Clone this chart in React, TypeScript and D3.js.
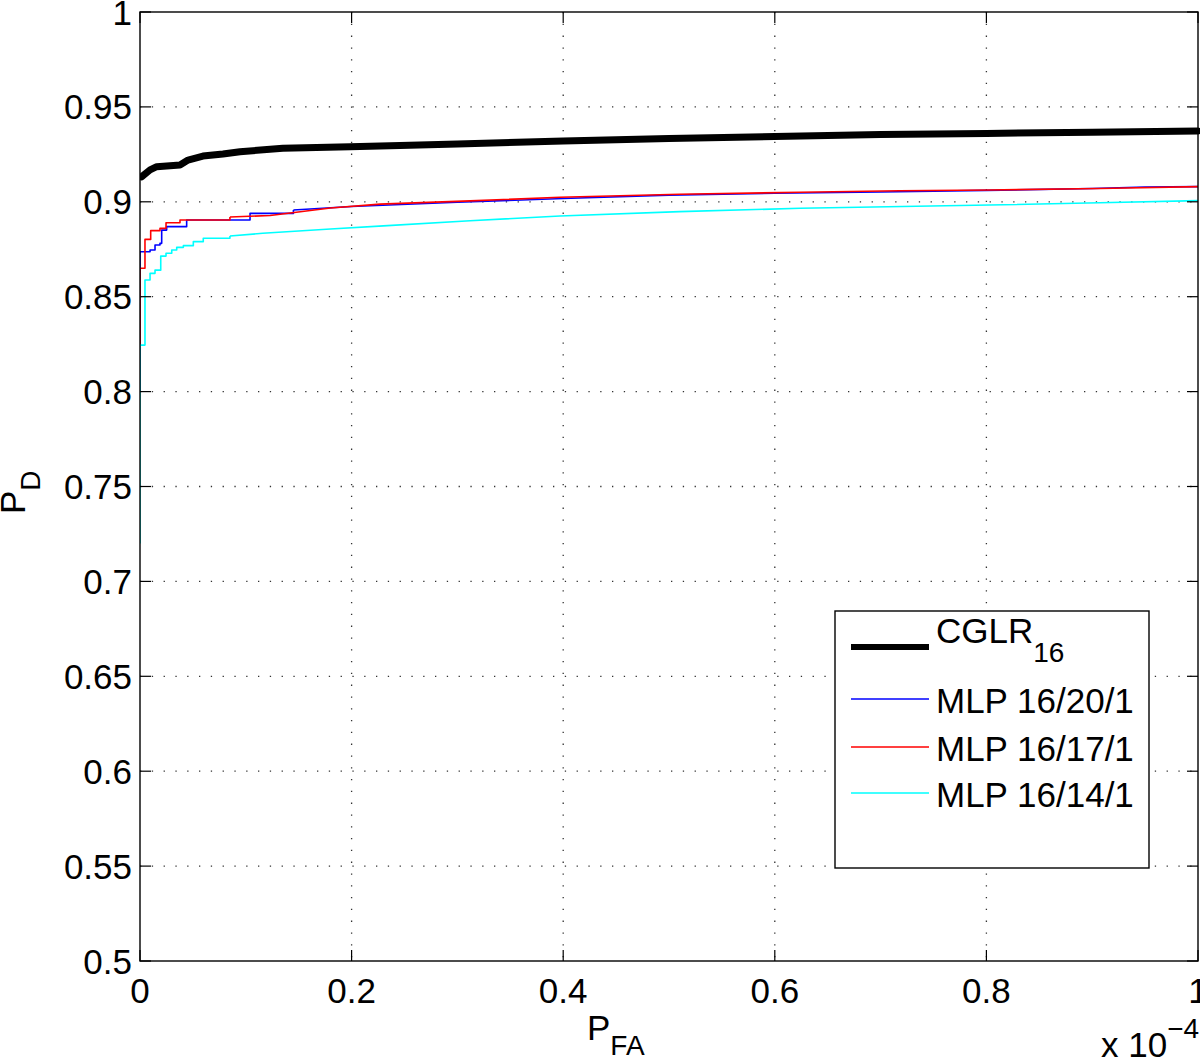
import React from "react";
import * as d3 from "d3";

// x values in units of 1e-4
const cglrX = [0.0016, 0.0095, 0.0158, 0.0378, 0.0454, 0.0595, 0.0784, 0.0945, 0.135, 0.1985, 0.2457, 0.3, 0.4, 0.5, 0.6, 0.7, 0.8, 0.9, 1.0];
const cglrY = [0.9132, 0.9168, 0.9185, 0.9194, 0.922, 0.9241, 0.9252, 0.9264, 0.9282, 0.929, 0.9296, 0.9305, 0.932, 0.9333, 0.9344, 0.9355, 0.936, 0.9367, 0.9373];

const mlp20X = [0, 0, 0.0095, 0.0142, 0.0189, 0.0205, 0.0252, 0.0441, 0.104, 0.145, 0.2, 0.3, 0.4, 0.5, 0.6, 0.7, 0.8, 0.9, 0.95, 1.0];
const mlp20Y = [0.80, 0.8737, 0.8746, 0.8772, 0.8781, 0.8851, 0.8869, 0.8904, 0.8939, 0.8957, 0.8975, 0.8998, 0.9017, 0.9035, 0.9045, 0.9052, 0.906, 0.907, 0.9078, 0.908];

const mlp17X = [0, 0, 0.0047, 0.0101, 0.0189, 0.0246, 0.0378, 0.085, 0.123, 0.18, 0.227, 0.312, 0.397, 0.51, 0.624, 0.718, 0.803, 0.907, 1.0];
const mlp17Y = [0.825, 0.865, 0.8802, 0.8848, 0.886, 0.889, 0.8904, 0.892, 0.8928, 0.8967, 0.8988, 0.9005, 0.9024, 0.904, 0.905, 0.9058, 0.9062, 0.907, 0.908];

const mlp14X = [0, 0, 0.0047, 0.0095, 0.0142, 0.0196, 0.0246, 0.03, 0.0347, 0.041, 0.0504, 0.0598, 0.085, 0.116, 0.18, 0.23, 0.312, 0.397, 0.51, 0.624, 0.803, 0.907, 1.0];
const mlp14Y = [0.72, 0.8245, 0.8588, 0.8623, 0.864, 0.8714, 0.8729, 0.8746, 0.876, 0.8769, 0.879, 0.8808, 0.882, 0.8834, 0.8857, 0.8873, 0.89, 0.8925, 0.8948, 0.8966, 0.8983, 0.8995, 0.9006];

// index where each series switches from visible stair steps to a smooth line
const stepEnds = [0, 9, 7, 12];

const xTicks = [0, 0.2, 0.4, 0.6, 0.8, 1];
const xTickLabels = ["0", "0.2", "0.4", "0.6", "0.8", "1"];
const yTicks = [0.5, 0.55, 0.6, 0.65, 0.7, 0.75, 0.8, 0.85, 0.9, 0.95, 1];
const yTickLabels = ["0.5", "0.55", "0.6", "0.65", "0.7", "0.75", "0.8", "0.85", "0.9", "0.95", "1"];

const seriesNames = ["CGLR", "MLP 16/20/1", "MLP 16/17/1", "MLP 16/14/1"];
const seriesColors = ["#000000", "#0000ff", "#ff0000", "#00ffff"];
const seriesWidths = [7, 1.6, 1.6, 1.6];

const FONT = "'Liberation Sans', Arial, Helvetica, sans-serif";

export default function App() {
  const W = 1200, H = 1060;
  const L = 140, R = 1198, T = 12, B = 961;
  const x = d3.scaleLinear().domain([0, 1]).range([L, R]);
  const y = d3.scaleLinear().domain([0.5, 1]).range([B, T]);
  const fs = 35;
  const sub = 28;

  const data = [
    { xs: cglrX, ys: cglrY },
    { xs: mlp20X, ys: mlp20Y },
    { xs: mlp17X, ys: mlp17Y },
    { xs: mlp14X, ys: mlp14Y },
  ];

  const stepGen = d3
    .line<[number, number]>()
    .x((d) => x(d[0]))
    .y((d) => y(d[1]))
    .curve(d3.curveStepAfter);
  const smoothGen = d3
    .line<[number, number]>()
    .x((d) => x(d[0]))
    .y((d) => y(d[1]))
    .curve(d3.curveLinear);

  const tickLen = 11;
  const gridStyle = { stroke: "#333", strokeWidth: 1.3, strokeDasharray: "1.3 10.5" };

  const legX = 835, legY = 611, legW = 314, legH = 257;
  const rowY = [647, 699, 747, 793];

  return (
    <svg width={W} height={H} style={{ position: "absolute", left: 0, top: 0, background: "#fff" }} fontFamily={FONT}>
      <rect x={0} y={0} width={W} height={H} fill="#fff" />
      {/* grid */}
      {xTicks.slice(1, -1).map((t) => (
        <line key={"gx" + t} x1={x(t)} x2={x(t)} y1={T} y2={B} {...gridStyle} />
      ))}
      {yTicks.slice(1, -1).map((t) => (
        <line key={"gy" + t} x1={L} x2={R} y1={y(t)} y2={y(t)} {...gridStyle} />
      ))}
      <defs>
        <clipPath id="plotclip">
          <rect x={L} y={T - 4} width={R - L + 2} height={B - T + 4} />
        </clipPath>
      </defs>
      {/* series */}
      <g clipPath="url(#plotclip)">
        {data.map((s, i) => {
          const pts = s.xs.map((v, k) => [v, s.ys[k]] as [number, number]);
          const se = stepEnds[i];
          const stepPts = pts.slice(0, se + 1);
          const smoothPts = pts.slice(se);
          const common = {
            fill: "none",
            stroke: seriesColors[i],
            strokeWidth: seriesWidths[i],
            strokeLinejoin: "round" as const,
            strokeLinecap: (i === 0 ? "round" : "butt") as "round" | "butt",
          };
          return (
            <g key={i}>
              {stepPts.length > 1 && <path d={stepGen(stepPts) || ""} {...common} />}
              <path d={smoothGen(smoothPts) || ""} {...common} />
            </g>
          );
        })}
      </g>
      {/* box */}
      <rect x={L} y={T} width={R - L} height={B - T} fill="none" stroke="#000" strokeWidth={1.4} />
      {/* ticks */}
      {xTicks.map((t) => (
        <g key={"tx" + t}>
          <line x1={x(t)} x2={x(t)} y1={B} y2={B - tickLen} stroke="#000" strokeWidth={1.2} />
          <line x1={x(t)} x2={x(t)} y1={T} y2={T + tickLen} stroke="#000" strokeWidth={1.2} />
        </g>
      ))}
      {yTicks.map((t) => (
        <g key={"ty" + t}>
          <line x1={L} x2={L + tickLen} y1={y(t)} y2={y(t)} stroke="#000" strokeWidth={1.2} />
          <line x1={R} x2={R - tickLen} y1={y(t)} y2={y(t)} stroke="#000" strokeWidth={1.2} />
        </g>
      ))}
      {/* tick labels */}
      {xTicks.map((t, i) => (
        <text key={"lx" + t} x={x(t)} y={1003} fontSize={fs} textAnchor="middle" fill="#000">
          {xTickLabels[i]}
        </text>
      ))}
      {yTicks.map((t, i) => (
        <text key={"ly" + t} x={132} y={y(t) + 12.5} fontSize={fs} textAnchor="end" fill="#000">
          {yTickLabels[i]}
        </text>
      ))}
      {/* axis labels */}
      <text x={587} y={1040} fontSize={fs} fill="#000">
        P<tspan fontSize={sub} dy={15}>FA</tspan>
      </text>
      <text transform="translate(25,514) rotate(-90)" fontSize={fs} fill="#000">
        P<tspan fontSize={sub} dy={15}>D</tspan>
      </text>
      <text x={1101} y={1057} fontSize={fs} fill="#000">
        x 10<tspan fontSize={sub} dy={-19}>−4</tspan>
      </text>
      {/* legend */}
      <rect x={legX} y={legY} width={legW} height={legH} fill="#fff" stroke="#000" strokeWidth={1.4} />
      {seriesNames.map((n, i) => (
        <g key={"leg" + i}>
          <line x1={851} x2={929} y1={rowY[i]} y2={rowY[i]} stroke={seriesColors[i]} strokeWidth={i === 0 ? 6 : 1.6} />
          {i === 0 ? (
            <text x={936} y={643} fontSize={fs} fill="#000">
              {n}
              <tspan fontSize={sub} dy={19}>16</tspan>
            </text>
          ) : (
            <text x={936} y={rowY[i] + 14} fontSize={fs} fill="#000">
              {n}
            </text>
          )}
        </g>
      ))}
    </svg>
  );
}
